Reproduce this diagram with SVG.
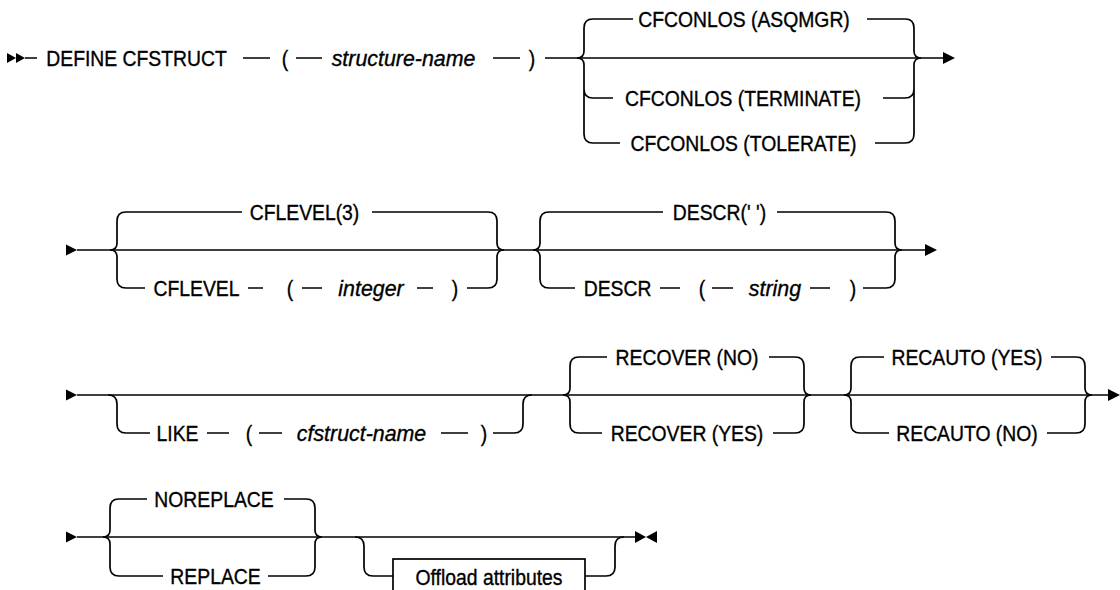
<svg xmlns="http://www.w3.org/2000/svg" width="1120" height="590" viewBox="0 0 1120 590">
<style>
.t{font-family:"Liberation Sans",Arial,sans-serif;font-size:21.5px;fill:#000;stroke:#000;stroke-width:0.35;text-anchor:middle}
.i{font-style:italic;font-size:22.5px}
.c{fill:none;stroke:#000;stroke-width:1.7}
.a{fill:#000;stroke:none}
.box{fill:#fff;stroke:#000;stroke-width:1.7}
</style>
<rect width="1120" height="590" fill="#fff"/>
<g id="connectors">
<path class="c" d="M25,58H37M243,58H270M296,58H322M493,58H520M545,58H945"/>
<path class="c" d="M593,19Q584,19 584,28V51Q584,58 577,58M577,58Q584,58 584,65V134Q584,143 593,143M584,89Q584,98 593,98"/>
<path class="c" d="M905,19Q914,19 914,28V51Q914,58 921,58M921,58Q914,58 914,65V134Q914,143 905,143M914,89Q914,98 905,98"/>
<path class="c" d="M593,19H633M867,19H905M593,98H613M883,98H905M593,143H620M875,143H905"/>
<path class="c" d="M77,250H927"/>
<path class="c" d="M126,212Q117,212 117,221V243Q117,250 110,250M110,250Q117,250 117,257V279Q117,288 126,288"/>
<path class="c" d="M488,212Q497,212 497,221V243Q497,250 504,250M504,250Q497,250 497,257V279Q497,288 488,288"/>
<path class="c" d="M126,212H242M372,212H488M126,288H145M248,288H263M302,288H322M417,288H433M467,288H488"/>
<path class="c" d="M549,212Q540,212 540,221V243Q540,250 533,250M533,250Q540,250 540,257V279Q540,288 549,288"/>
<path class="c" d="M886,212Q895,212 895,221V243Q895,250 902,250M902,250Q895,250 895,257V279Q895,288 886,288"/>
<path class="c" d="M549,212H663M777,212H886M549,288H575M660,288H680M712,288H733M810,288H830M863,288H886"/>
<path class="c" d="M77,395H1110"/>
<path class="c" d="M108,395Q117,395 117,404V424Q117,433 126,433M514,433Q523,433 523,424V404Q523,395 532,395"/>
<path class="c" d="M126,433H150M207,433H229M259,433H282M441,433H468M493,433H514"/>
<path class="c" d="M579,357Q570,357 570,366V388Q570,395 563,395M563,395Q570,395 570,402V424Q570,433 579,433"/>
<path class="c" d="M795,357Q804,357 804,366V388Q804,395 811,395M811,395Q804,395 804,402V424Q804,433 795,433"/>
<path class="c" d="M579,357H607M769,357H795M579,433H602M773,433H795"/>
<path class="c" d="M860,357Q851,357 851,366V388Q851,395 844,395M844,395Q851,395 851,402V424Q851,433 860,433"/>
<path class="c" d="M1076,357Q1085,357 1085,366V388Q1085,395 1092,395M1092,395Q1085,395 1085,402V424Q1085,433 1076,433"/>
<path class="c" d="M860,357H884M1051,357H1076M860,433H889M1047,433H1076"/>
<path class="c" d="M77,537H635"/>
<path class="c" d="M119,499Q110,499 110,508V530Q110,537 103,537M103,537Q110,537 110,544V567Q110,576 119,576"/>
<path class="c" d="M306,499Q315,499 315,508V530Q315,537 322,537M322,537Q315,537 315,544V567Q315,576 306,576"/>
<path class="c" d="M119,499H147M284,499H306M119,576H163M268,576H306"/>
<path class="c" d="M355,537Q364,537 364,546V567Q364,576 373,576H393M585,576H606Q615,576 615,567V546Q615,537 624,537"/>
</g>
<g id="terminals">
<polygon class="a" points="7,53 16,58 7,63"/>
<polygon class="a" points="16,53 25,58 16,63"/>
<polygon class="a" points="943,52 955,58 943,64"/>
<polygon class="a" points="66,244.5 77,250 66,255.5"/>
<polygon class="a" points="925,244 937,250 925,256"/>
<polygon class="a" points="66,389.5 77,395 66,400.5"/>
<polygon class="a" points="1108,389 1120,395 1108,401"/>
<polygon class="a" points="66,531.5 77,537 66,542.5"/>
<polygon class="a" points="635,531 646,537 635,543"/>
<polygon class="a" points="657,531 646,537 657,543"/>
</g>
<g id="row1">
<g id="n-define"><text class="t" transform="translate(136.5,65.5) scale(0.9,1)">DEFINE CFSTRUCT</text></g>
<g id="n-lp1"><text class="t" transform="translate(285,65.5) scale(0.9,1)">(</text></g>
<g id="n-structure-name"><text class="t i" transform="translate(403.5,65.5) scale(0.95,1)">structure-name</text></g>
<g id="n-rp1"><text class="t" transform="translate(532,65.5) scale(0.9,1)">)</text></g>
<g id="n-asqmgr"><text class="t" transform="translate(744,26.5) scale(0.9,1)">CFCONLOS (ASQMGR)</text></g>
<g id="n-terminate"><text class="t" transform="translate(743,105.5) scale(0.9,1)">CFCONLOS (TERMINATE)</text></g>
<g id="n-tolerate"><text class="t" transform="translate(743.5,150.5) scale(0.9,1)">CFCONLOS (TOLERATE)</text></g>
</g>
<g id="row2">
<g id="n-cflevel3"><text class="t" transform="translate(304.5,219.5) scale(0.9,1)">CFLEVEL(3)</text></g>
<g id="n-cflevel"><text class="t" transform="translate(196.5,295.5) scale(0.9,1)">CFLEVEL</text></g>
<g id="n-lp2"><text class="t" transform="translate(290,295.5) scale(0.9,1)">(</text></g>
<g id="n-integer"><text class="t i" transform="translate(371,295.5) scale(0.95,1)">integer</text></g>
<g id="n-rp2"><text class="t" transform="translate(455,295.5) scale(0.9,1)">)</text></g>
<g id="n-descr-default"><text class="t" transform="translate(719.5,219.5) scale(0.9,1)">DESCR(' ')</text></g>
<g id="n-descr"><text class="t" transform="translate(617.5,295.5) scale(0.9,1)">DESCR</text></g>
<g id="n-lp3"><text class="t" transform="translate(702,295.5) scale(0.9,1)">(</text></g>
<g id="n-string"><text class="t i" transform="translate(775,295.5) scale(0.95,1)">string</text></g>
<g id="n-rp3"><text class="t" transform="translate(853,295.5) scale(0.9,1)">)</text></g>
</g>
<g id="row3">
<g id="n-like"><text class="t" transform="translate(177.5,440.5) scale(0.9,1)">LIKE</text></g>
<g id="n-lp4"><text class="t" transform="translate(249,440.5) scale(0.9,1)">(</text></g>
<g id="n-cfstruct-name"><text class="t i" transform="translate(361.5,440.5) scale(0.95,1)">cfstruct-name</text></g>
<g id="n-rp4"><text class="t" transform="translate(484,440.5) scale(0.9,1)">)</text></g>
<g id="n-recover-no"><text class="t" transform="translate(687,364.5) scale(0.9,1)">RECOVER (NO)</text></g>
<g id="n-recover-yes"><text class="t" transform="translate(687,440.5) scale(0.9,1)">RECOVER (YES)</text></g>
<g id="n-recauto-yes"><text class="t" transform="translate(967,364.5) scale(0.9,1)">RECAUTO (YES)</text></g>
<g id="n-recauto-no"><text class="t" transform="translate(967,440.5) scale(0.9,1)">RECAUTO (NO)</text></g>
</g>
<g id="row4">
<g id="n-noreplace"><text class="t" transform="translate(214,506.5) scale(0.9,1)">NOREPLACE</text></g>
<g id="n-replace"><text class="t" transform="translate(215.5,583.5) scale(0.9,1)">REPLACE</text></g>
<g id="n-offload"><rect class="box" x="393" y="559" width="192" height="40"/><text class="t" transform="translate(489,584.5) scale(0.9,1)">Offload attributes</text></g>
</g>
</svg>
